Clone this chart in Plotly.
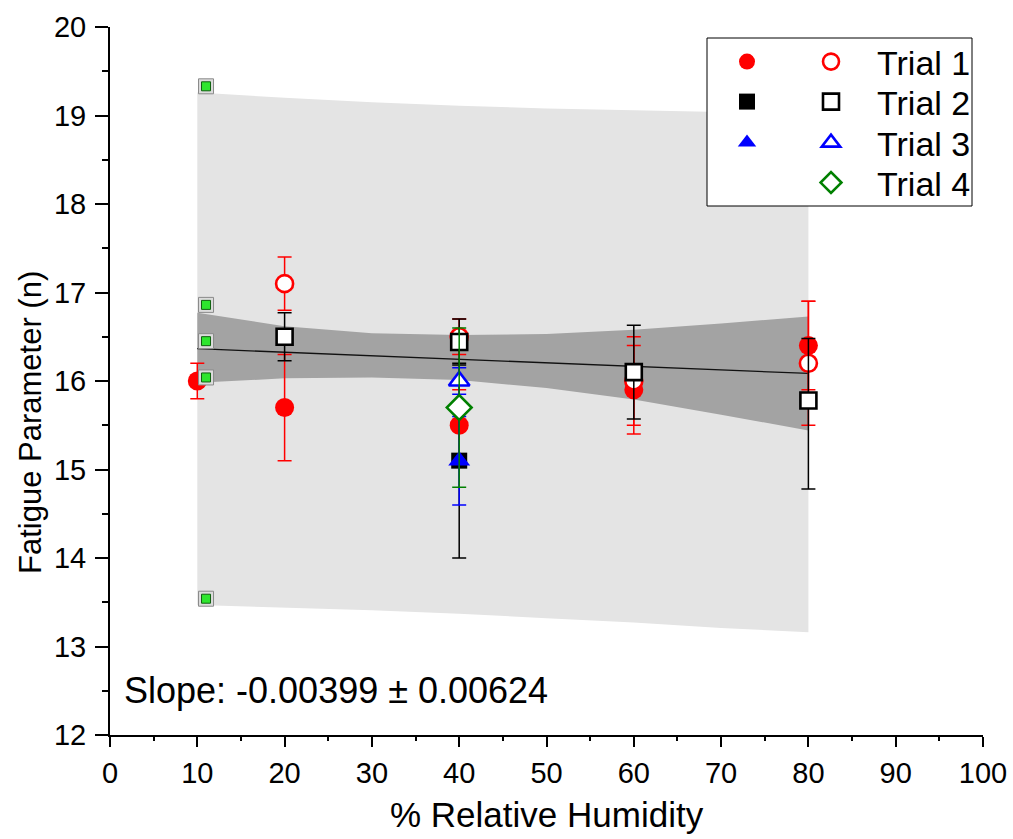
import plotly.graph_objects as go

FONT = "Arial, Liberation Sans, sans-serif"

# ---- measurements: fatigue parameter n vs relative humidity ----
# Trial 1
t1_fill_x = [10, 20, 40, 60, 80]
t1_fill_y = [16.0, 15.7, 15.5, 15.9, 16.4]
t1_fill_err = [0.2, 0.6, 0.4, 0.5, 0.5]
t1_open_x = [20, 40, 60, 80]
t1_open_y = [17.1, 16.5, 16.0, 16.2]
t1_open_err = [0.3, 0.2, 0.5, 0.7]
# Trial 2
t2_fill_x = [40]
t2_fill_y = [15.1]
t2_fill_err = [1.1]
t2_open_x = [20, 40, 60, 80]
t2_open_y = [16.5, 16.44, 16.1, 15.78]
t2_open_err_plus = [0.27, 0.26, 0.53, 0.70]
t2_open_err_minus = [0.27, 0.26, 0.53, 1.00]
# Trial 3
t3_fill_x = [40]
t3_fill_y = [15.1]
t3_fill_err = [0.5]
t3_open_x = [40]
t3_open_y = [16.0]
t3_open_err = [0.15]
# Trial 4
t4_open_x = [40]
t4_open_y = [15.7]
t4_open_err = [0.9]

# ---- linear fit with confidence / prediction bands ----
fit_slope = -0.00399
fit_slope_err = 0.00624
fit_intercept = 16.405
fit_x = [10, 80]

band_x = [10, 20, 30, 40, 50, 60, 70, 80]
conf_upper = [16.77, 16.62, 16.54, 16.52, 16.53, 16.58, 16.65, 16.73]
conf_lower = [15.98, 16.03, 16.04, 16.01, 15.92, 15.79, 15.62, 15.44]
pred_upper = [19.26, 19.20, 19.15, 19.11, 19.08, 19.06, 19.04, 19.03]
pred_lower = [13.47, 13.44, 13.41, 13.37, 13.32, 13.27, 13.21, 13.16]

# fit-parameter lock glyphs
lock_x = [11, 11, 11, 11, 11]
lock_y = [19.33, 16.86, 16.45, 16.04, 13.54]

fig = go.Figure()

def band(upper, lower, color):
    return go.Scatter(
        x=band_x + band_x[::-1], y=upper + lower[::-1],
        fill="toself", fillcolor=color, line=dict(width=0),
        mode="lines", showlegend=False, hoverinfo="skip")

fig.add_trace(band(pred_upper, pred_lower, "#e4e4e4"))
fig.add_trace(band(conf_upper, conf_lower, "#a3a3a3"))
fig.add_trace(go.Scatter(
    x=fit_x, y=[fit_intercept + fit_slope * v for v in fit_x],
    mode="lines", line=dict(color="#111111", width=1.3),
    showlegend=False, hoverinfo="skip"))

def series(x, y, err, color, symbol, size, filled, name, legend, err_minus=None):
    ebar = dict(type="data", array=err, color=color, thickness=1.5, width=7, visible=True)
    if err_minus is not None:
        ebar["symmetric"] = False
        ebar["arrayminus"] = err_minus
    if filled:
        marker = dict(symbol=symbol, size=size, color=color, line=dict(width=0))
    else:
        marker = dict(symbol=symbol, size=size, color="white", line=dict(color=color, width=2.6))
    return go.Scatter(x=x, y=y, mode="markers", name=name, marker=marker,
                      error_y=ebar, legend=legend, showlegend=True)

RED, BLACK, BLUE, GREEN = "#ff0000", "#000000", "#0000ff", "#008000"

fig.add_trace(series(t1_fill_x, t1_fill_y, t1_fill_err, RED, "circle", 19, True, "", "legend5"))
fig.add_trace(series(t1_open_x, t1_open_y, t1_open_err, RED, "circle", 17, False, "Trial 1", "legend"))
fig.add_trace(series(t2_fill_x, t2_fill_y, t2_fill_err, BLACK, "square", 16, True, "", "legend6"))
fig.add_trace(series(t2_open_x, t2_open_y, t2_open_err_plus, BLACK, "square", 16, False, "Trial 2",
                     "legend2", err_minus=t2_open_err_minus))
fig.add_trace(series(t3_fill_x, t3_fill_y, t3_fill_err, BLUE, "triangle-up", 19, True, "", "legend7"))
fig.add_trace(series(t3_open_x, t3_open_y, t3_open_err, BLUE, "triangle-up", 18, False, "Trial 3", "legend3"))
fig.add_trace(series(t4_open_x, t4_open_y, t4_open_err, GREEN, "diamond", 19, False, "Trial 4", "legend4"))

fig.add_trace(go.Scatter(
    x=lock_x, y=lock_y, mode="markers", showlegend=False, hoverinfo="skip",
    marker=dict(symbol="square", size=15, color="#dcdcdc", line=dict(color="#8a8a8a", width=1))))
fig.add_trace(go.Scatter(
    x=lock_x, y=lock_y, mode="markers", showlegend=False, hoverinfo="skip",
    marker=dict(symbol="square", size=9, color="#2ee62e", line=dict(color="#106010", width=1))))

# plot area in pixels: left 110, right 983, top 27, bottom 735
L, R, T, B = 110, 983, 27, 735
W, H = 1013, 839
PW, PH = R - L, B - T

def px_x(p):
    return (p - L) / PW

def px_y(p):
    return (B - p) / PH

legend_rows = [62, 102, 143, 183]
legend_common = dict(bgcolor="rgba(0,0,0,0)", borderwidth=0, yanchor="middle",
                     xanchor="left", font=dict(family=FONT, size=34, color="black"))
layout_legends = {}
for i, row in enumerate(legend_rows):
    key = "legend" if i == 0 else f"legend{i + 1}"
    layout_legends[key] = dict(legend_common, x=px_x(785), y=px_y(row), itemwidth=82)
for i, row in enumerate(legend_rows[:3]):
    key = f"legend{i + 5}"
    layout_legends[key] = dict(legend_common, x=px_x(727), y=px_y(row), itemwidth=30)

axis_common = dict(showline=True, linewidth=2, linecolor="black", ticks="outside",
                   tickwidth=2, tickcolor="black", showgrid=False, zeroline=False,
                   mirror=False)

fig.update_layout(
    width=W, height=H,
    margin=dict(l=L, r=W - R, t=T, b=H - B, autoexpand=False),
    paper_bgcolor="white", plot_bgcolor="white",
    font=dict(family=FONT, color="black"),
    xaxis=dict(axis_common, range=[0, 100], dtick=10, tick0=0, ticklen=10,
               tickfont=dict(size=29), ticklabelstandoff=1,
               minor=dict(dtick=5, ticks="outside", ticklen=4, tickwidth=2, tickcolor="black")),
    yaxis=dict(axis_common, range=[12, 20], dtick=1, tick0=12, ticklen=13,
               tickfont=dict(size=29), ticklabelstandoff=3,
               minor=dict(dtick=0.5, ticks="outside", ticklen=6, tickwidth=2, tickcolor="black")),
    shapes=[dict(type="rect", xref="paper", yref="paper",
                 x0=px_x(707), x1=px_x(972), y0=px_y(206), y1=px_y(38),
                 fillcolor="white", line=dict(color="black", width=1), layer="above")],
    annotations=[
        dict(text=f"Slope: {fit_slope:.5f} ± {fit_slope_err:.5f}", xref="paper", yref="paper",
             x=px_x(122), y=px_y(690), xanchor="left", yanchor="middle", showarrow=False,
             font=dict(family=FONT, size=36, color="black")),
        dict(text="Fatigue Parameter (n)", xref="paper", yref="paper", textangle=-90,
             x=px_x(30), y=px_y(423), xanchor="center", yanchor="middle", showarrow=False,
             font=dict(family=FONT, size=31, color="black")),
        dict(text="% Relative Humidity", xref="paper", yref="paper",
             x=0.5, y=px_y(814), xanchor="center", yanchor="middle", showarrow=False,
             font=dict(family=FONT, size=35, color="black")),
    ],
    **layout_legends,
)

fig.write_html("out.html")
